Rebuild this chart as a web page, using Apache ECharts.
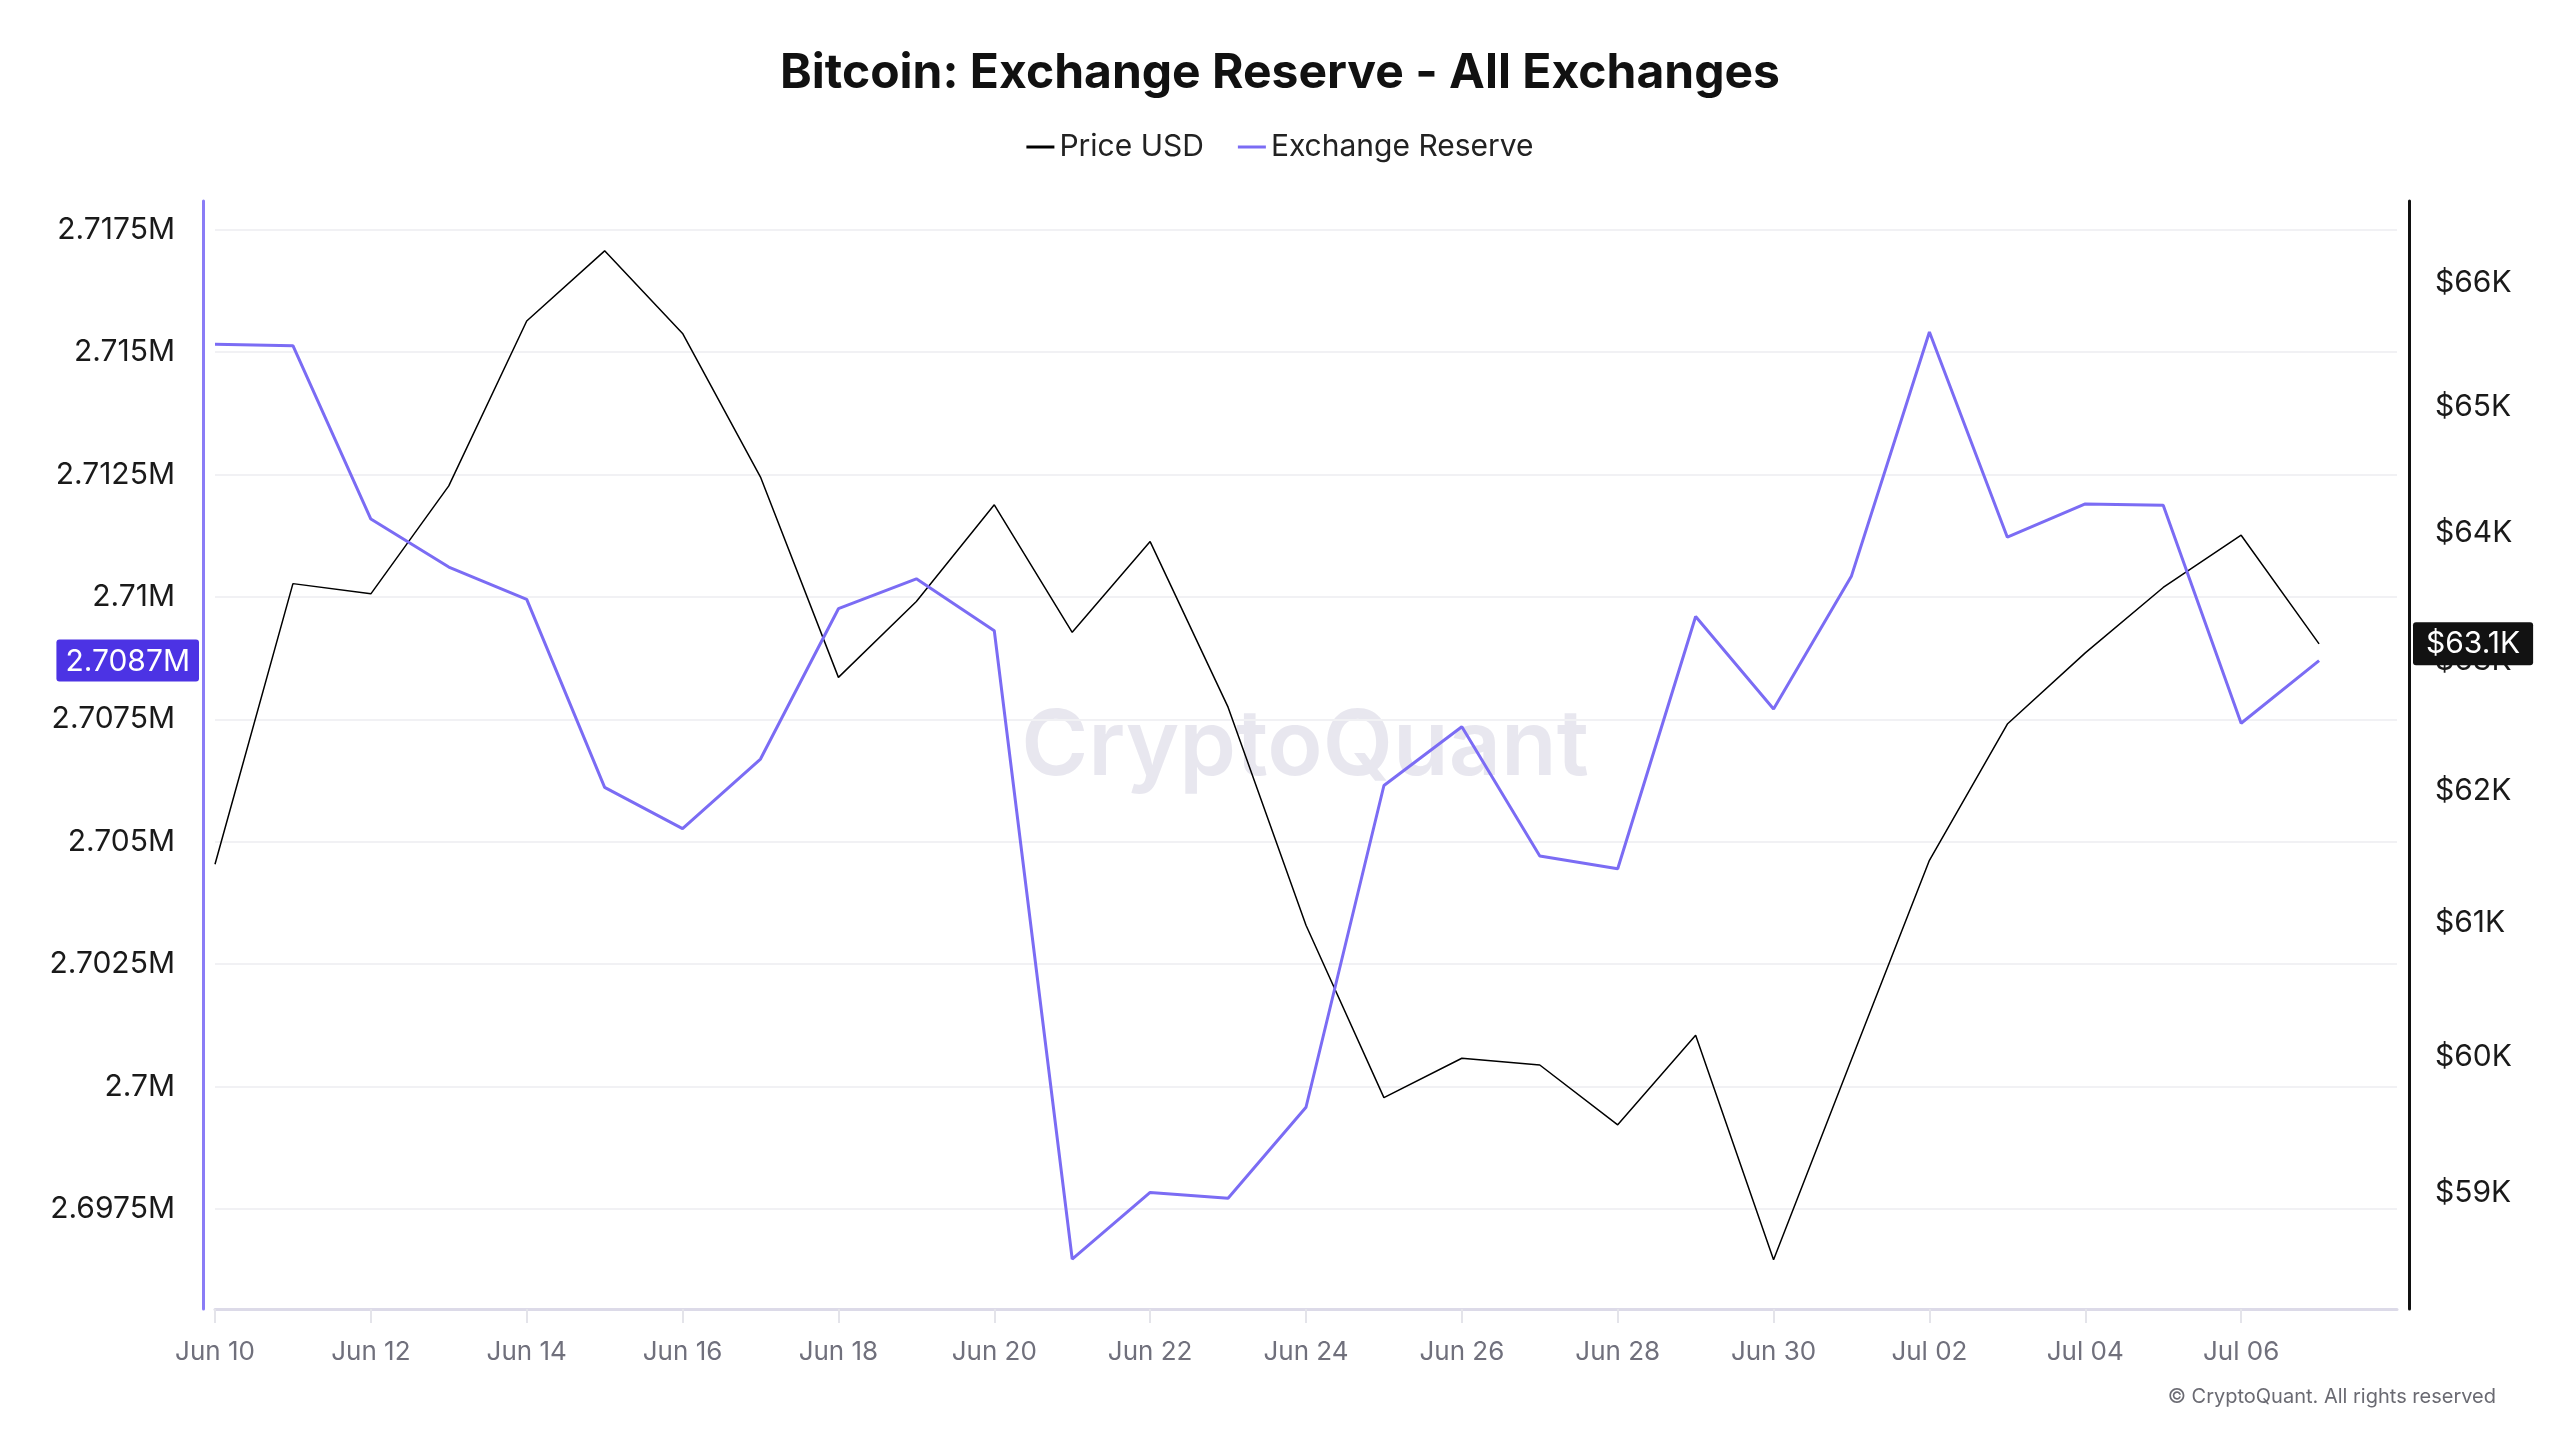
<!DOCTYPE html>
<html>
<head>
<meta charset="utf-8">
<title>Bitcoin: Exchange Reserve - All Exchanges</title>
<script src="https://cdn.jsdelivr.net/npm/echarts@6.0.0/dist/echarts.min.js"></script>
<style>
  html, body { margin: 0; padding: 0; background: #fff; }
  #chart { width: 2560px; height: 1440px; }
</style>
</head>
<body>
<div id="chart"></div>
<script>
  // one point per day, Jun 10 .. Jul 07 (axis runs one more day to Jul 08)
  const dates = [
    'Jun 10', 'Jun 11', 'Jun 12', 'Jun 13', 'Jun 14', 'Jun 15', 'Jun 16', 'Jun 17',
    'Jun 18', 'Jun 19', 'Jun 20', 'Jun 21', 'Jun 22', 'Jun 23', 'Jun 24', 'Jun 25',
    'Jun 26', 'Jun 27', 'Jun 28', 'Jun 29', 'Jun 30', 'Jul 01', 'Jul 02', 'Jul 03',
    'Jul 04', 'Jul 05', 'Jul 06', 'Jul 07', 'Jul 08'
  ];
  const priceUsd = [
    61440, 63600, 63520, 64370, 65690, 66260, 65590, 64440,
    62870, 63460, 64220, 63220, 63930, 62640, 60980, 59700,
    59990, 59940, 59500, 60160, 58520, 59980, 61470, 62510,
    63060, 63570, 63980, 63130
  ];
  const exchangeReserve = [
    2715160, 2715130, 2711590, 2710610, 2709950, 2706110, 2705270, 2706690,
    2709760, 2710370, 2709310, 2696480, 2697840, 2697720, 2699580, 2706150,
    2707350, 2704710, 2704450, 2709600, 2707710, 2710430, 2715410, 2711220,
    2711900, 2711870, 2707420, 2708700
  ];
  const reserveTicks = [2697500, 2700000, 2702500, 2705000, 2707500, 2710000, 2712500, 2715000, 2717500];
  const priceTicks = [59000, 60000, 61000, 62000, 63000, 64000, 65000, 66000];

  const FONT = 'Inter, "Noto Sans", sans-serif';
  const PURPLE = '#7b6cf4';

  function fmtReserve(v) {
    return +(v / 1e6).toFixed(4) + 'M';
  }
  function fmtPrice(v) {
    return '$' + +(v / 1000).toFixed(1) + 'K';
  }

  const chart = echarts.init(document.getElementById('chart'));

  const option = {
    backgroundColor: '#fff',
    animation: false,
    title: {
      text: 'Bitcoin: Exchange Reserve - All Exchanges',
      left: 'center',
      top: 50,
      padding: 0,
      textStyle: { fontFamily: FONT, fontSize: 48, fontWeight: 700, color: '#111' }
    },
    legend: {
      top: 127,
      left: 'center',
      itemGap: 34,
      itemWidth: 28,
      itemHeight: 3,
      icon: 'rect',
      textStyle: { fontFamily: FONT, fontSize: 30, color: '#222' },
      data: ['Price USD', 'Exchange Reserve']
    },
    grid: { left: 215, right: 163, top: 201, bottom: 131 },
    xAxis: {
      type: 'category',
      data: dates,
      boundaryGap: false,
      axisLine: { lineStyle: { color: '#dcdae8', width: 3 } },
      axisTick: {
        show: true,
        length: 14,
        interval: (i) => i % 2 === 0 && i < dates.length - 1,
        lineStyle: { color: '#e4e4ea', width: 2 }
      },
      axisLabel: {
        interval: (i) => i % 2 === 0 && i < dates.length - 1,
        margin: 30,
        fontFamily: FONT,
        fontSize: 26,
        color: '#70707c'
      },
      splitLine: { show: false }
    },
    yAxis: [
      {
        type: 'value',
        position: 'left',
        offset: 12,
        min: 2695460,
        max: 2718085,
        axisLine: { show: true, lineStyle: { color: '#8a7cf6', width: 3 } },
        axisTick: { show: false, customValues: reserveTicks },
        axisLabel: {
          customValues: reserveTicks,
          formatter: fmtReserve,
          margin: 28,
          fontFamily: FONT,
          fontSize: 30,
          color: '#1a1a1a'
        },
        splitLine: { show: true, lineStyle: { color: '#f1f1f4', width: 2 } },
        axisPointer: {
          show: true,
          status: 'show',
          value: exchangeReserve[exchangeReserve.length - 1],
          triggerTooltip: false,
          lineStyle: { opacity: 0 },
          label: {
            show: true,
            formatter: (p) => fmtReserve(p.value),
            backgroundColor: '#4c33e4',
            color: '#fff',
            fontFamily: FONT,
            fontSize: 30,
            padding: [7, 9, 5, 9],
            borderRadius: 3,
            margin: 4
          }
        }
      },
      {
        type: 'log',
        position: 'right',
        offset: 12,
        min: 58166,
        max: 66668,
        axisLine: { show: true, lineStyle: { color: '#111', width: 3 } },
        axisTick: { show: false, customValues: priceTicks },
        axisLabel: {
          customValues: priceTicks,
          formatter: fmtPrice,
          margin: 26,
          fontFamily: FONT,
          fontSize: 30,
          color: '#1a1a1a'
        },
        splitLine: { show: false },
        axisPointer: {
          show: true,
          status: 'show',
          value: priceUsd[priceUsd.length - 1],
          triggerTooltip: false,
          lineStyle: { opacity: 0 },
          label: {
            show: true,
            formatter: (p) => fmtPrice(p.value),
            backgroundColor: '#121212',
            color: '#fff',
            fontFamily: FONT,
            fontSize: 30,
            padding: [7, 13, 6, 13],
            borderRadius: 3,
            margin: 4
          }
        }
      }
    ],
    graphic: [
      {
        type: 'text',
        z: 0,
        style: {
          text: 'CryptoQuant',
          x: 1305,
          y: 748,
          textAlign: 'center',
          textVerticalAlign: 'middle',
          font: '600 91px Inter, sans-serif',
          fill: 'rgba(205, 201, 220, 0.45)'
        }
      },
      {
        type: 'text',
        z: 0,
        style: {
          text: '© CryptoQuant. All rights reserved',
          x: 2496,
          y: 1397,
          textAlign: 'right',
          textVerticalAlign: 'middle',
          font: '20px Inter, sans-serif',
          fill: '#6a6a72'
        }
      }
    ],
    series: [
      {
        name: 'Price USD',
        type: 'line',
        yAxisIndex: 1,
        data: priceUsd,
        showSymbol: false,
        color: '#000',
        lineStyle: { width: 1.5, color: '#000' },
        z: 3
      },
      {
        name: 'Exchange Reserve',
        type: 'line',
        yAxisIndex: 0,
        data: exchangeReserve,
        showSymbol: false,
        color: PURPLE,
        lineStyle: { width: 3, color: PURPLE },
        z: 4
      }
    ]
  };

  chart.setOption(option);
</script>
</body>
</html>
